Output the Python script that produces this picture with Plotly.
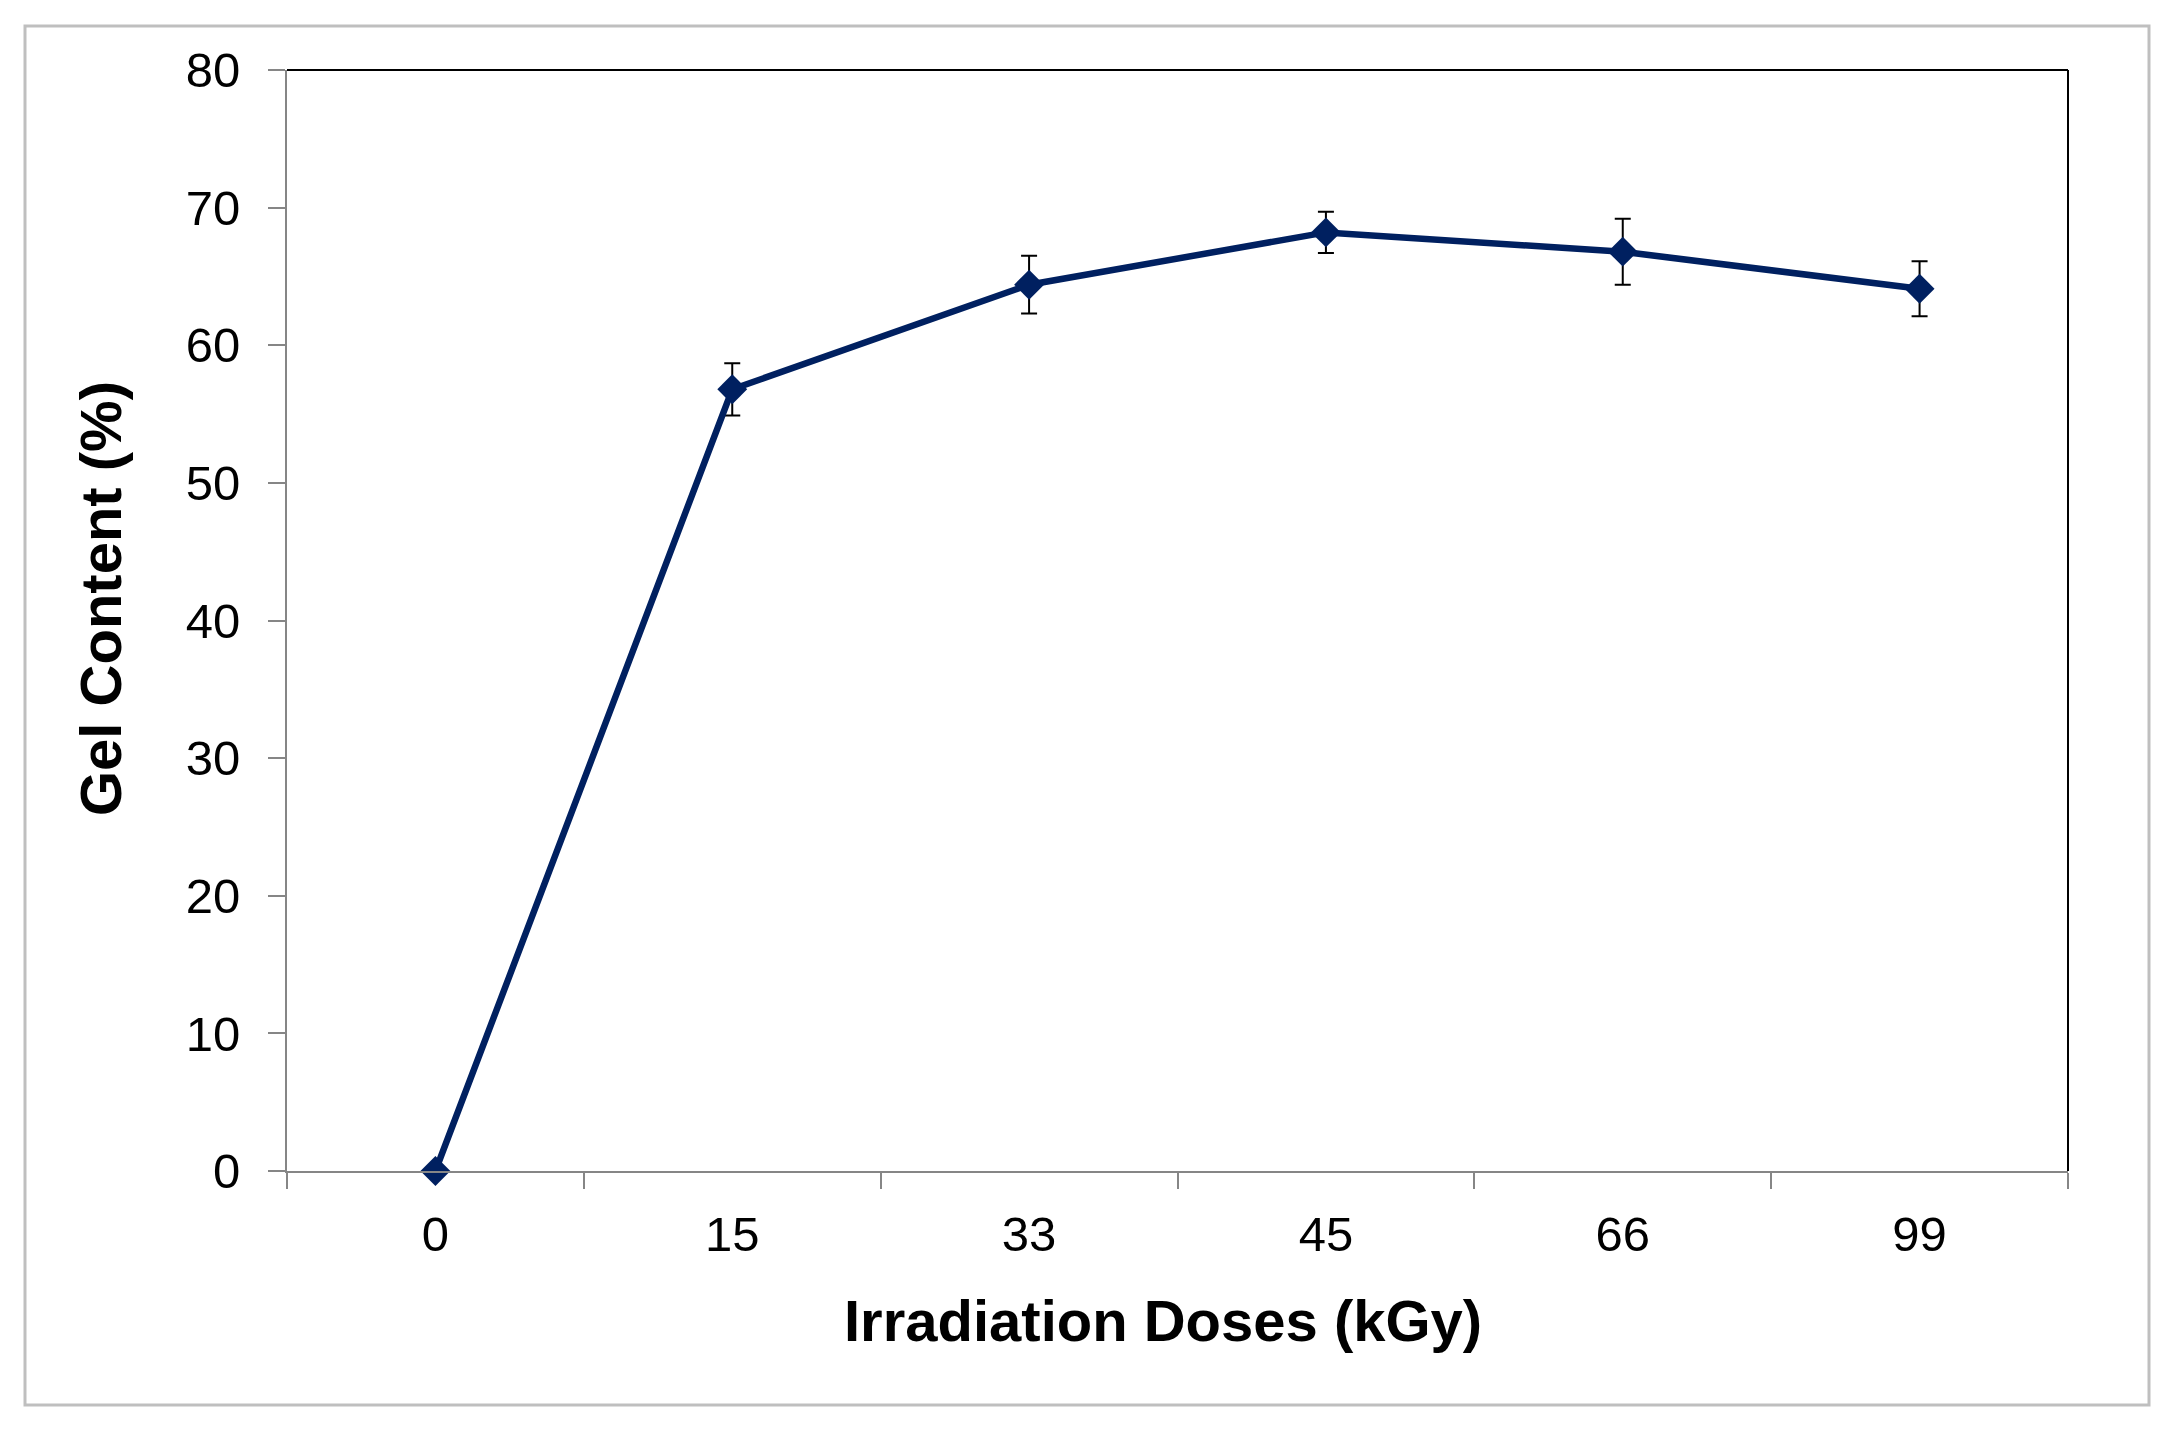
import plotly.graph_objects as go

# ---- data ----
doses = ["0", "15", "33", "45", "66", "99"]
gel_content = [0.0, 56.8, 64.4, 68.2, 66.8, 64.1]
gel_error = [0.0, 1.9, 2.1, 1.5, 2.4, 2.0]
y_tick_values = [0, 10, 20, 30, 40, 50, 60, 70, 80]

# ---- layout geometry (reference pixels; page has 8px body margin) ----
OFF = 8
W, H = 2173 - 2 * OFF, 1430 - 2 * OFF
PL, PR, PT, PB = 287 - OFF, 2068 - OFF, 70 - OFF, 1171 - OFF
FONT = "Liberation Sans, Arial, sans-serif"
NAVY = "#002060"
AXIS_GREY = "#868686"


def px_x(px):
    return (px - OFF - PL) / (PR - PL)


def px_y(py):
    return (PB - (py - OFF)) / (PB - PT)


fig = go.Figure()
fig.add_trace(
    go.Scatter(
        x=doses,
        y=gel_content,
        mode="lines+markers",
        line=dict(color=NAVY, width=6.5),
        marker=dict(symbol="diamond", size=23, color=NAVY),
        error_y=dict(type="data", array=gel_error, visible=True,
                     color="black", thickness=2, width=8),
        cliponaxis=False,
        showlegend=False,
    )
)

fig.update_layout(
    width=W,
    height=H,
    margin=dict(l=PL, r=W - PR, t=PT, b=H - PB, pad=0),
    paper_bgcolor="white",
    plot_bgcolor="white",
    font=dict(family=FONT, color="black"),
    xaxis=dict(
        type="category",
        range=[-0.5, 5.5],
        tickson="boundaries",
        ticks="outside",
        ticklen=16,
        tickwidth=2,
        tickcolor=AXIS_GREY,
        showline=True,
        linecolor=AXIS_GREY,
        linewidth=2,
        showgrid=False,
        zeroline=False,
        tickfont=dict(family=FONT, size=49, color="black"),
        ticklabelstandoff=19,
        automargin=False,
    ),
    yaxis=dict(
        range=[0, 80],
        tickvals=y_tick_values,
        ticks="outside",
        ticklen=17,
        tickwidth=2,
        tickcolor=AXIS_GREY,
        showline=True,
        linecolor=AXIS_GREY,
        linewidth=2,
        showgrid=False,
        zeroline=False,
        tickfont=dict(family=FONT, size=49, color="black"),
        ticklabelstandoff=18,
        automargin=False,
    ),
    annotations=[
        dict(text="<b>Irradiation Doses (kGy)</b>", xref="paper", yref="paper",
             x=px_x(1163), y=px_y(1320), xanchor="center", yanchor="middle",
             showarrow=False, font=dict(family=FONT, size=58, color="black")),
        dict(text="<b>Gel Content (%)</b>", xref="paper", yref="paper",
             x=px_x(100), y=px_y(599), xanchor="center", yanchor="middle",
             textangle=-90, showarrow=False,
             font=dict(family=FONT, size=58, color="black")),
    ],
    shapes=[
        # outer grey frame
        dict(type="rect", xref="paper", yref="paper",
             x0=px_x(25), x1=px_x(2149), y0=px_y(1405), y1=px_y(26),
             line=dict(color="#BFBFBF", width=3), fillcolor="rgba(0,0,0,0)",
             layer="below"),
        # black top and right borders of plot area
        dict(type="line", xref="paper", yref="paper", x0=0, x1=1, y0=1, y1=1,
             line=dict(color="black", width=2)),
        dict(type="line", xref="paper", yref="paper", x0=1, x1=1, y0=0, y1=1,
             line=dict(color="black", width=2)),
    ],
)

fig.write_html("out.html")
